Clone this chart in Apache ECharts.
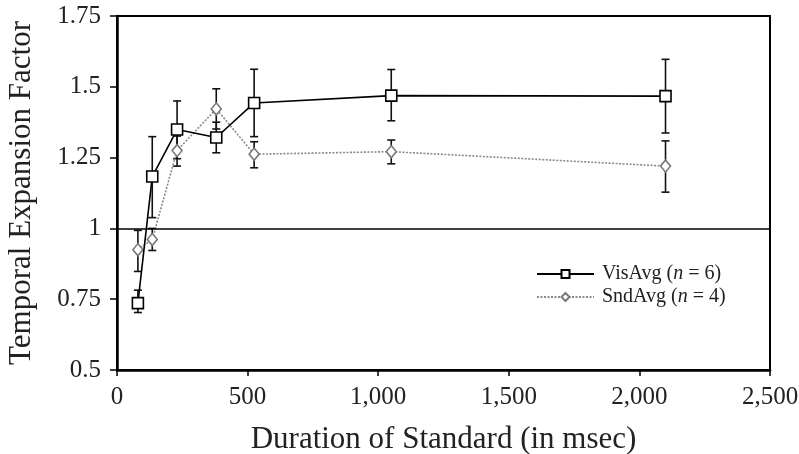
<!DOCTYPE html>
<html>
<head>
<meta charset="utf-8">
<script src="https://cdn.jsdelivr.net/npm/echarts@6/dist/echarts.min.js"></script>
<style>html,body{margin:0;padding:0;background:#fff;}#c{width:799px;height:454px;}</style>
</head>
<body>
<div id="c"></div>
<script>
// Data
var durations = [80, 135, 230, 380, 525, 1050, 2100];
var visAvg  = [0.736, 1.183, 1.349, 1.321, 1.443, 1.469, 1.467];
var visLow  = [0.703, 1.038, 1.246, 1.267, 1.324, 1.380, 1.337];
var visHigh = [0.782, 1.324, 1.450, 1.375, 1.562, 1.561, 1.597];
var sndAvg  = [0.925, 0.961, 1.275, 1.422, 1.262, 1.271, 1.220];
var sndLow  = [0.848, 0.922, 1.220, 1.351, 1.214, 1.228, 1.128];
var sndHigh = [0.993, 1.000, 1.326, 1.493, 1.306, 1.312, 1.309];
var yTicks = [0.5, 0.75, 1, 1.25, 1.5, 1.75];
var xTicks = [0, 500, 1000, 1500, 2000, 2500];

var FONT = "'Liberation Serif','Times New Roman',serif";

function pairs(xs, ys) { return xs.map(function (x, i) { return [x, ys[i]]; }); }
function errData(xs, lo, hi) { return xs.map(function (x, i) { return [x, lo[i], hi[i]]; }); }

function errRender(params, api) {
  var x = api.value(0);
  var lo = api.coord([x, api.value(1)]);
  var hi = api.coord([x, api.value(2)]);
  var w = 4;
  var st = { stroke: '#111', lineWidth: 1.6 };
  return {
    type: 'group',
    children: [
      { type: 'line', shape: { x1: lo[0], y1: lo[1], x2: hi[0], y2: hi[1] }, style: st },
      { type: 'line', shape: { x1: lo[0] - w, y1: lo[1], x2: lo[0] + w, y2: lo[1] }, style: st },
      { type: 'line', shape: { x1: hi[0] - w, y1: hi[1], x2: hi[0] + w, y2: hi[1] }, style: st }
    ]
  };
}

var chart = echarts.init(document.getElementById('c'), null, { renderer: 'canvas' });
chart.setOption({
  animation: false,
  backgroundColor: '#fff',
  textStyle: { fontFamily: FONT },
  grid: {
    left: 117, right: 29, top: 16, bottom: 84,
    containLabel: false, outerBoundsMode: 'none',
    show: true, borderColor: '#000', borderWidth: 2, backgroundColor: 'transparent'
  },
  legend: {
    orient: 'vertical',
    left: 531,
    top: 259,
    itemWidth: 57,
    itemHeight: 10,
    itemGap: 3,
    data: ['VisAvg', 'SndAvg'],
    formatter: function (name) {
      return name === 'VisAvg' ? '{a|VisAvg (}{i|n}{a| = 6)}' : '{a|SndAvg (}{i|n}{a| = 4)}';
    },
    textStyle: {
      fontFamily: FONT, fontSize: 20, color: '#222', padding: [0, 0, 0, 3],
      rich: {
        a: { fontFamily: FONT, fontSize: 20, color: '#222' },
        i: { fontFamily: FONT, fontSize: 20, color: '#222', fontStyle: 'italic' }
      }
    }
  },
  xAxis: {
    type: 'value', min: 0, max: 2500, interval: 500,
    name: 'Duration of Standard (in msec)',
    nameLocation: 'middle', nameGap: 54,
    nameTextStyle: { fontFamily: FONT, fontSize: 31, color: '#222' },
    axisLine: { show: true, lineStyle: { color: '#000', width: 2.5 } },
    axisTick: { show: true, length: 6, lineStyle: { color: '#000', width: 1.5 } },
    axisLabel: {
      fontFamily: FONT, fontSize: 25, color: '#222', margin: 15,
      formatter: function (v) { return v.toLocaleString('en-US'); }
    },
    splitLine: { show: false }
  },
  yAxis: {
    type: 'value', min: 0.5, max: 1.75, interval: 0.25,
    name: 'Temporal Expansion Factor',
    nameLocation: 'middle', nameGap: 80,
    nameTextStyle: { fontFamily: FONT, fontSize: 31, color: '#222' },
    axisLine: { show: true, lineStyle: { color: '#000', width: 2.5 } },
    axisTick: { show: true, length: 7, lineStyle: { color: '#000', width: 1.5 } },
    axisLabel: { fontFamily: FONT, fontSize: 25, color: '#222', margin: 16 },
    splitLine: { show: false }
  },
  series: [
    {
      type: 'custom', name: 'visErr', renderItem: errRender, z: 2,
      data: errData(durations, visLow, visHigh), silent: true
    },
    {
      type: 'custom', name: 'sndErr', renderItem: errRender, z: 2,
      data: errData(durations, sndLow, sndHigh), silent: true
    },
    {
      name: 'SndAvg', type: 'line', z: 3,
      data: pairs(durations, sndAvg),
      symbol: 'diamond', symbolSize: [10, 12], showAllSymbol: true,
      lineStyle: { color: '#8a8a8a', width: 1.6, type: [2, 1.5] },
      itemStyle: { color: '#fff', borderColor: '#7a7a7a', borderWidth: 1.6 },
      markLine: {
        silent: true, symbol: 'none', label: { show: false },
        lineStyle: { color: '#000', width: 1.5, type: 'solid' },
        data: [{ yAxis: 1 }]
      }
    },
    {
      name: 'VisAvg', type: 'line', z: 4,
      data: pairs(durations, visAvg),
      symbol: 'rect', symbolSize: 11, showAllSymbol: true,
      lineStyle: { color: '#000', width: 1.6 },
      itemStyle: { color: '#fff', borderColor: '#000', borderWidth: 1.6 }
    }
  ]
});
</script>
</body>
</html>
